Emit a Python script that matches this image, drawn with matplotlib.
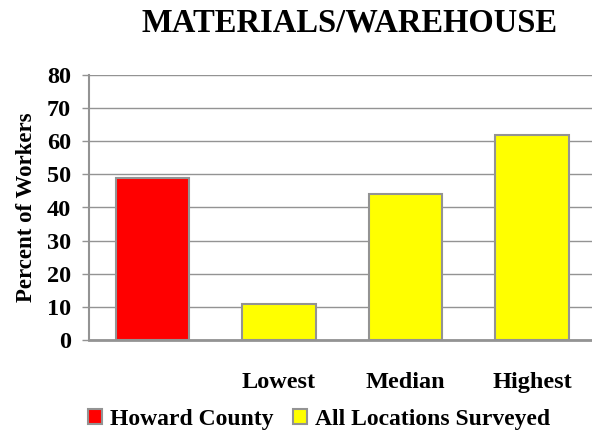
import matplotlib
matplotlib.use('Agg')
import matplotlib.pyplot as plt
from matplotlib.patches import Patch

categories = ['', 'Lowest', 'Median', 'Highest']
values = [49, 11, 44, 62]
colors = ['#ff0000', '#ffff00', '#ffff00', '#ffff00']
legend_labels = ['Howard County', 'All Locations Surveyed']
yticks = [0, 10, 20, 30, 40, 50, 60, 70, 80]

plt.rcParams['font.family'] = ['Liberation Serif', 'DejaVu Serif']
plt.rcParams['font.weight'] = 'bold'

GRAY = '#939393'

fig = plt.figure(figsize=(5.92, 4.4), dpi=100)
ax = fig.add_axes([89 / 592, 100 / 440, 506.5 / 592, 265 / 440])

x = range(len(categories))
ax.bar(x, values, width=0.58, color=colors, edgecolor=GRAY, linewidth=1.5, zorder=3)

ax.set_xlim(-0.5, 3.5)
ax.set_ylim(0, 80)
ax.set_yticks(yticks)
ax.set_yticklabels([str(t) for t in yticks], fontsize=17.5, fontweight='bold')
ax.set_xticks(list(x))
ax.set_xticklabels(categories, fontsize=17.5, fontweight='bold')
ax.tick_params(axis='x', length=0, pad=23)
ax.tick_params(axis='y', length=5, width=1, color=GRAY, pad=8)
ax.yaxis.grid(True, color=GRAY, linewidth=1, zorder=0)
ax.set_axisbelow(True)

for side in ['top', 'right']:
    ax.spines[side].set_visible(False)
ax.spines['left'].set_color(GRAY)
ax.spines['left'].set_linewidth(1.5)
ax.spines['bottom'].set_color(GRAY)
ax.spines['bottom'].set_linewidth(2)

ax.set_ylabel('Percent of Workers', fontsize=16.5, fontweight='bold', labelpad=7)

fig.text(350 / 592, 1 - 31 / 440, 'MATERIALS/WAREHOUSE', ha='center', va='baseline',
         fontsize=23.5, fontweight='bold')

handles = [Patch(facecolor='#ff0000', edgecolor=GRAY, linewidth=1.5),
           Patch(facecolor='#ffff00', edgecolor=GRAY, linewidth=1.5)]
fig.legend(handles, legend_labels, loc='center', bbox_to_anchor=(319 / 592, 1 - 419 / 440),
           ncol=2, frameon=False, handlelength=0.6, handleheight=0.6,
           handletextpad=0.35, columnspacing=0.8,
           prop={'size': 17, 'weight': 'bold'})

fig.savefig('out.png', dpi=100)
